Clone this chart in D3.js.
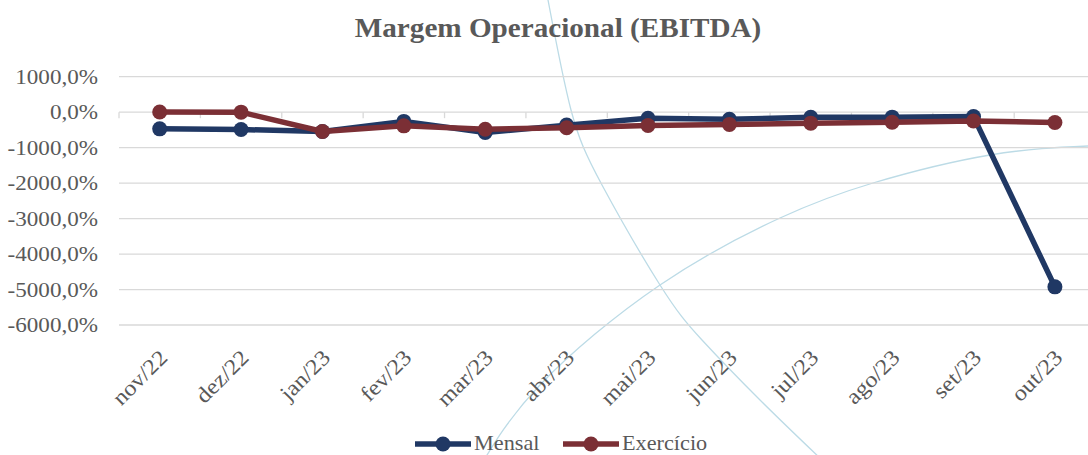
<!DOCTYPE html>
<html>
<head>
<meta charset="utf-8">
<script src="https://cdn.jsdelivr.net/npm/d3@7/dist/d3.min.js"></script>
<style>
  html, body { margin: 0; padding: 0; background: #fff; }
  svg { display: block; }
  text { font-family: "Liberation Serif", "DejaVu Serif", serif; }
</style>
</head>
<body>
<svg id="chart" width="1088" height="455"></svg>
<script>
// Monthly categories
const months = ["nov/22", "dez/22", "jan/23", "fev/23", "mar/23", "abr/23",
                "mai/23", "jun/23", "jul/23", "ago/23", "set/23", "out/23"];

// EBITDA margin, in percent
const mensal    = [-470, -490, -545, -260, -575, -365, -170, -200, -145, -140, -125, -4925];
const exercicio = [5, 0, -545, -385, -480, -440, -375, -345, -310, -283, -248, -292];

// Y axis ticks
const yTicks = [1000, 0, -1000, -2000, -3000, -4000, -5000, -6000];

const seriesNames  = ["Mensal", "Exercício"];
const seriesColors = ["#203864", "#7b2f35"];

const W = 1088, H = 455;
const svg = d3.select("#chart");

// Faint decorative arcs in the slide background
const decoA = [[548, 0], [571, 110], [602, 185], [660, 285], [702, 340], [760, 400], [822, 460]];
const decoB = [[478, 470], [540, 385], [660, 285], [780, 218], [873, 183], [990, 155], [1088, 146]];
const decoLine = d3.line().curve(d3.curveNatural);
svg.append("g").selectAll("path").data([decoA, decoB]).join("path")
  .attr("d", decoLine)
  .attr("fill", "none")
  .attr("stroke", "#bcdbe6")
  .attr("stroke-width", 1.3);

const x = d3.scaleBand().domain(months).range([119, 1095.6]);
const y = d3.scaleLinear().domain([1000, -6000]).range([76.7, 325]);

const fmt = v => d3.format(".1f")(v).replace(".", ",").replace("−", "-") + "%";

// Horizontal grid
svg.append("g").selectAll("line").data(yTicks).join("line")
  .attr("x1", 119).attr("x2", W)
  .attr("y1", d => y(d)).attr("y2", d => y(d))
  .attr("stroke", "#d9d9d9").attr("stroke-width", 1.3);

// Category tick marks on the zero line
svg.append("g").selectAll("line").data(months).join("line")
  .attr("x1", d => x(d)).attr("x2", d => x(d))
  .attr("y1", y(0)).attr("y2", y(0) + 6)
  .attr("stroke", "#d9d9d9").attr("stroke-width", 1.3);

// Y axis labels (slightly widened serif)
const yg = svg.append("g");
yg.selectAll("text").data(yTicks).join("text")
  .attr("transform", d => `translate(98,${y(d)}) scale(1.1,1)`)
  .attr("dy", "0.34em")
  .attr("text-anchor", "end")
  .attr("fill", "#595959")
  .attr("font-size", 21)
  .text(fmt);

// X axis labels, rotated
const xg = svg.append("g");
xg.selectAll("text").data(months).join("text")
  .attr("transform", d => `translate(${x(d) + x.bandwidth() / 2 + 9},${359}) rotate(-45) scale(1.1,1)`)
  .attr("text-anchor", "end")
  .attr("fill", "#595959")
  .attr("font-size", 22)
  .text(d => d);

// Title
svg.append("text")
  .attr("transform", "translate(558,37) scale(1.08,1)")
  .attr("text-anchor", "middle")
  .attr("font-size", 27).attr("font-weight", "bold")
  .attr("fill", "#595959")
  .text("Margem Operacional (EBITDA)");

// Series
const cx = d => x(d) + x.bandwidth() / 2;
const line = d3.line().x((d, i) => cx(months[i])).y(d => y(d));
[mensal, exercicio].forEach((vals, k) => {
  const g = svg.append("g");
  g.append("path").datum(vals)
    .attr("d", line)
    .attr("fill", "none")
    .attr("stroke", seriesColors[k])
    .attr("stroke-width", 5.5)
    .attr("stroke-linejoin", "round");
  g.selectAll("circle").data(vals).join("circle")
    .attr("cx", (d, i) => cx(months[i]))
    .attr("cy", d => y(d))
    .attr("r", 7.5)
    .attr("fill", seriesColors[k]);
});

// Legend
const legendX = [415, 563];
const lg = svg.append("g");
seriesNames.forEach((name, k) => {
  const g = lg.append("g").attr("transform", `translate(${legendX[k]},444)`);
  g.append("line").attr("x1", 0).attr("x2", 56).attr("y1", 0).attr("y2", 0)
    .attr("stroke", seriesColors[k]).attr("stroke-width", 5.5);
  g.append("circle").attr("cx", 28).attr("cy", 0).attr("r", 7.5).attr("fill", seriesColors[k]);
  g.append("text").attr("transform", "translate(59,6) scale(1.06,1)")
    .attr("fill", "#595959").attr("font-size", 21).text(name);
});
</script>
</body>
</html>
